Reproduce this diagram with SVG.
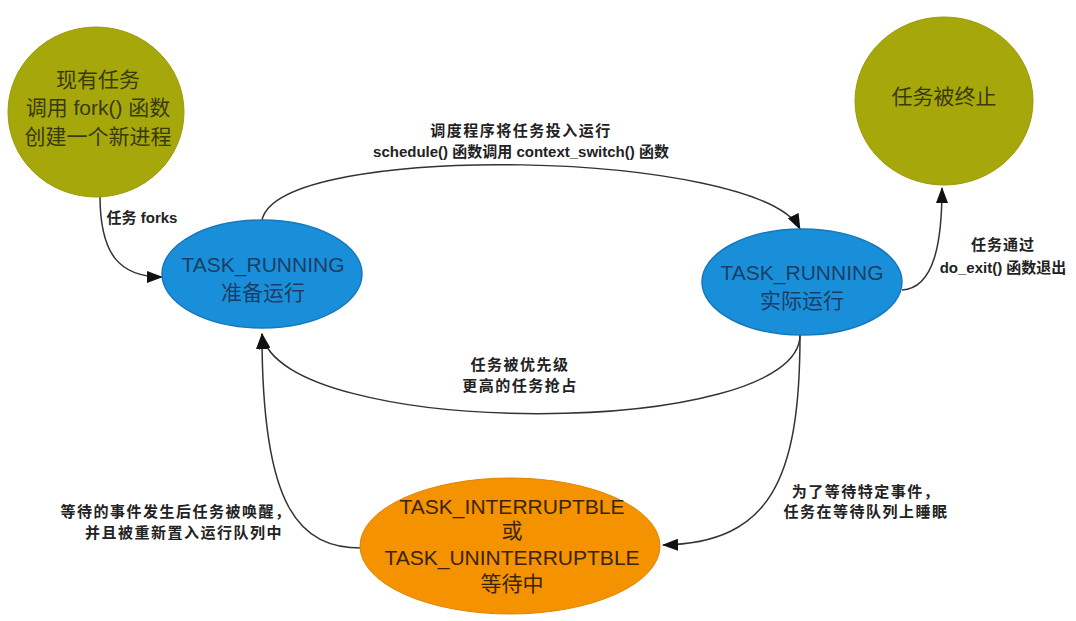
<svg xmlns="http://www.w3.org/2000/svg" width="1076" height="621" viewBox="0 0 1076 621">
<defs>
<style>
.olive{fill:#a6a70a;stroke:#9a9b08;stroke-width:1}
.blue{fill:#1a8fd9;stroke:#1578be;stroke-width:1.5}
.orange{fill:#f49200;stroke:#e08500;stroke-width:1}
.nt{font-family:"Liberation Sans","Noto Sans CJK SC",sans-serif;font-size:21px;text-anchor:middle}
.ot{fill:#3a3a08}
.bt{fill:#1c3d66}
.rt{fill:#3a2508}
.lb{font-family:"Liberation Sans","Noto Sans CJK SC",sans-serif;font-size:15px;font-weight:bold;fill:#222;text-anchor:middle}
.edge{fill:none;stroke:#333;stroke-width:1.5}
</style>
<marker id="arr" markerWidth="16" markerHeight="12" refX="15" refY="6" orient="auto" markerUnits="userSpaceOnUse">
<path d="M0,0 L16,6 L0,12 Z" fill="#111"/>
</marker>
</defs>
<rect width="1076" height="621" fill="#fff"/>
<g id="connectors">
<path class="edge" d="M100,196 C100,255 120,277 162,277" marker-end="url(#arr)"/>
<path class="edge" d="M262,220 C280,140 760,150 800,229" marker-end="url(#arr)"/>
<path class="edge" d="M800,335 C800,440 280,440 262,334" marker-end="url(#arr)"/>
<path class="edge" d="M362,548 C300,548 262,510 262,334" marker-end="url(#arr)"/>
<path class="edge" d="M800,335 C800,480 770,543 663,545" marker-end="url(#arr)"/>
<path class="edge" d="M902,290 C935,288 942,240 942,188" marker-end="url(#arr)"/>
</g>
<g id="labels">
<text class="lb" x="142" y="223">任务 forks</text>
<text class="lb" x="521" y="136" letter-spacing="1.5">调度程序将任务投入运行</text>
<text class="lb" x="521" y="157">schedule() 函数调用 context_switch() 函数</text>
<text class="lb" x="1003" y="250" letter-spacing="1">任务通过</text>
<text class="lb" x="1003" y="273">do_exit() 函数退出</text>
<text class="lb" x="520" y="370" letter-spacing="1.5">任务被优先级</text>
<text class="lb" x="520" y="391" letter-spacing="1.5">更高的任务抢占</text>
<text class="lb" x="176" y="517" letter-spacing="1.5">等待的事件发生后任务被唤醒，</text>
<text class="lb" x="184" y="538" letter-spacing="1.5">并且被重新置入运行队列中</text>
<text class="lb" x="866" y="497" letter-spacing="1.5">为了等待特定事件，</text>
<text class="lb" x="866" y="517" letter-spacing="1.5">任务在等待队列上睡眠</text>
</g>
<g id="node-fork">
<ellipse class="olive" cx="96" cy="112" rx="88" ry="85"/>
<text class="nt ot" x="98" y="87">现有任务</text>
<text class="nt ot" x="98" y="115">调用 fork() 函数</text>
<text class="nt ot" x="98" y="144">创建一个新进程</text>
</g>
<g id="node-exit">
<ellipse class="olive" cx="944" cy="101" rx="89" ry="84"/>
<text class="nt ot" x="944" y="104">任务被终止</text>
</g>
<g id="node-ready">
<ellipse class="blue" cx="262" cy="274" rx="100" ry="54"/>
<text class="nt bt" x="263" y="272">TASK_RUNNING</text>
<text class="nt bt" x="263" y="300">准备运行</text>
</g>
<g id="node-running">
<ellipse class="blue" cx="802" cy="282" rx="100" ry="53"/>
<text class="nt bt" x="802" y="280">TASK_RUNNING</text>
<text class="nt bt" x="802" y="308">实际运行</text>
</g>
<g id="node-wait">
<ellipse class="orange" cx="510" cy="546" rx="150" ry="68"/>
<text class="nt rt" x="512" y="514">TASK_INTERRUPTBLE</text>
<text class="nt rt" x="512" y="538">或</text>
<text class="nt rt" x="512" y="565">TASK_UNINTERRUPTBLE</text>
<text class="nt rt" x="512" y="591">等待中</text>
</g>
</svg>
